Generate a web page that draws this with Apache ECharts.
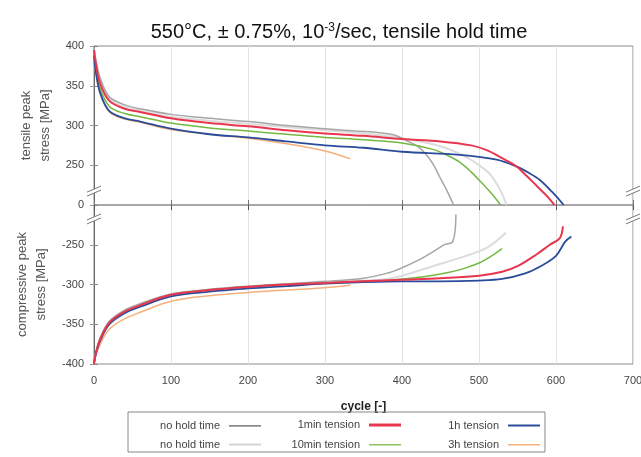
<!DOCTYPE html>
<html><head><meta charset="utf-8">
<script src="https://cdn.jsdelivr.net/npm/echarts@6/dist/echarts.min.js"></script>
<style>html,body{margin:0;padding:0;background:#fff}#c{width:641px;height:457px}</style>
</head><body><div id="c"></div>
<script>
// ---- data (cycles, peak stress in MPa) ----
const noHoldA_T_cycles = [0,2,8,20,40,60,100,150,200,250,300,340,370,390,410,420,430,440,449,458,467];
const noHoldA_T_stress = [398,385,360,336,326,321,314,309,305,300,296,293,291,288,279,274,265,252,176,94,0];
const noHoldA_C_cycles = [0,2,8,20,40,60,100,150,200,250,300,350,380,400,420,440,455,466,470];
const noHoldA_C_stress = [-400,-387,-367,-346,-332,-324,-312,-306,-302,-299,-296,-292,-286,-279,-270,-259,-249,-230,-60];

const noHoldB_T_cycles = [0,2,8,20,40,60,100,150,200,250,300,350,400,450,480,500,515,527,536];
const noHoldB_T_stress = [396,382,356,333,323,319,311,306,302,298,294,290,284,274,262,250,190,100,0];
const noHoldB_C_cycles = [0,2,8,20,40,60,100,150,200,250,300,350,380,400,440,480,510,535];
const noHoldB_C_stress = [-400,-388,-369,-348,-334,-326,-313,-307,-303,-300,-298,-295,-293,-289,-277,-265,-254,-175];

const min1_T_cycles = [0,2,8,20,40,60,100,150,200,250,300,350,400,450,490,510,530,548,562,575,588,598];
const min1_T_stress = [395,380,353,331,321,317,309,303,299,294,290,287,283,280,275,269,259,245,182,120,57,0];
const min1_C_cycles = [0,2,8,20,40,60,100,150,200,250,300,350,400,450,500,530,550,575,592,605,609];
const min1_C_stress = [-400,-388,-369,-348,-334,-326,-313,-307,-303,-300,-298,-296,-294,-292,-289,-284,-277,-262,-250,-208,-135];

const min10_T_cycles = [0,2,8,20,40,60,100,150,200,250,300,350,400,440,460,475,490,505,518,528];
const min10_T_stress = [392,375,347,324,315,311,303,297,293,289,285,282,278,270,262,254,207,132,63,0];
const min10_C_cycles = [0,2,8,20,40,60,100,150,200,250,300,350,380,400,430,460,480,500,515,530];
const min10_C_stress = [-400,-388,-369,-348,-334,-326,-313,-307,-303,-300,-298,-296,-295,-293,-290,-285,-280,-273,-265,-255];

const h1_T_cycles = [0,2,8,20,40,60,100,150,200,250,300,350,400,475,523,549,565,579,595,610];
const h1_T_stress = [388,370,341,318,309,305,296,289,285,280,275,272,267,263,257,241,201,157,82,0];
const h1_C_cycles = [0,2,8,20,40,60,100,150,200,250,300,350,400,450,500,530,560,580,600,612,620];
const h1_C_stress = [-400,-389,-371,-350,-336,-328,-315,-309,-305,-302,-299,-297,-296,-296,-295,-293,-286,-277,-264,-230,-198];

const h3_T_cycles = [0,2,8,20,40,60,100,150,200,250,300,333];
const h3_T_stress = [385,368,340,317,308,304,295,289,284,277,268,258];
const h3_C_cycles = [0,2,8,20,40,60,100,150,200,250,300,333];
const h3_C_stress = [-400,-390,-375,-356,-343,-335,-321,-314,-310,-307,-304,-301];

const xTickValues = [0,100,200,300,400,500,600,700];
const tensileTicks = [0,250,300,350,400];
const compressiveTicks = [-250,-300,-350,-400];

// broken axis: |stress| >= 250 shown linearly, 0..250 compressed into one step
function toDisp(v){ const a=Math.abs(v), s=v<0?-1:1; return a>=250 ? s*(a-200) : v/5; }
function fromDisp(d){ if(d===0) return 0; const a=Math.abs(d), s=d<0?-1:1; return a>=50 ? s*(a+200) : d*5; }
function pts(c,s){ return c.map((x,i)=>[x,toDisp(s[i])]); }

const FONT = 'Liberation Sans, Arial, sans-serif';
const chart = echarts.init(document.getElementById('c'), null, {renderer:'canvas'});

const defs = [
  {name:'no hold time (2)', color:'#dcdcdc', w:2,   T:[noHoldB_T_cycles,noHoldB_T_stress], C:[noHoldB_C_cycles,noHoldB_C_stress]},
  {name:'3h tension',       color:'#f7b07a', w:1.5, T:[h3_T_cycles,h3_T_stress],           C:[h3_C_cycles,h3_C_stress]},
  {name:'no hold time',     color:'#a6a6a6', w:1.5, T:[noHoldA_T_cycles,noHoldA_T_stress], C:[noHoldA_C_cycles,noHoldA_C_stress]},
  {name:'10min tension',    color:'#74b843', w:1.5, T:[min10_T_cycles,min10_T_stress],     C:[min10_C_cycles,min10_C_stress]},
  {name:'1h tension',       color:'#2b4c9b', w:1.8, T:[h1_T_cycles,h1_T_stress],           C:[h1_C_cycles,h1_C_stress]},
  {name:'1min tension',     color:'#e8364f', w:2,   T:[min1_T_cycles,min1_T_stress],       C:[min1_C_cycles,min1_C_stress]}
];
const series = [];
defs.forEach(d=>{
  const base = {type:'line', name:d.name, showSymbol:false, symbol:'none', smooth:0.35,
    lineStyle:{color:d.color, width:d.w}, itemStyle:{color:d.color}, silent:true};
  series.push(Object.assign({}, base, {xAxisIndex:0, yAxisIndex:0, data:pts(d.T[0],d.T[1])}));
  series.push(Object.assign({}, base, {xAxisIndex:2, yAxisIndex:2, data:pts(d.C[0],d.C[1])}));
});

const legendItems = [
  {name:'no hold time',     color:'#555555', h:1.2, right:641-261, row:0},
  {name:'1min tension',     color:'#e8364f', h:3,   right:641-401, row:0},
  {name:'1h tension',       color:'#2b4c9b', h:2,   right:641-540, row:0},
  {name:'no hold time (2)', color:'#d4d4d4', h:2,   right:641-261, row:1},
  {name:'10min tension',    color:'#8cc060', h:1.5, right:641-401, row:1},
  {name:'3h tension',       color:'#f7b07a', h:1.5, right:641-540, row:1}
];
const rowCenters = [421, 440];
const legends = legendItems.map(it=>({
  data:[{name:it.name, icon:'rect', itemStyle:{color:it.color, borderWidth:0}}],
  right: it.right, top: rowCenters[it.row]-it.h/2, padding:0,
  itemWidth:32, itemHeight:it.h, itemGap:5, align:'right', selectedMode:false,
  formatter: n => n.replace(' (2)',''),
  textStyle:{fontFamily:FONT, fontSize:11, color:'#444', padding:[0,4,0,0]}
}));

const axisCommonX = {type:'value', min:0, max:700, interval:100};
const gridLineStyle = {color:'#e2e2e2', width:1};
const option = {
  animation:false,
  backgroundColor:'#ffffff',
  title:{
    text:'550°C, ± 0.75%, 10{sup|-3}/sec, tensile hold time',
    left:334, top:17, textAlign:'center',
    textStyle:{fontFamily:FONT, fontSize:20, fontWeight:'normal', color:'#111',
      rich:{sup:{fontFamily:FONT, fontSize:12, color:'#111', verticalAlign:'top', padding:[0,0,9,0]}}}
  },
  legend: legends,
  grid:[
    {left:94, top:46, width:539, height:159, show:true, borderColor:'#8a8a8a', borderWidth:1, containLabel:false, outerBoundsMode:'none'},
    {left:94, top:205, width:539, height:159, show:true, borderColor:'#8a8a8a', borderWidth:1, containLabel:false, outerBoundsMode:'none'}
  ],
  xAxis:[
    Object.assign({}, axisCommonX, {gridIndex:0, position:'bottom', axisLine:{show:false}, axisLabel:{show:false},
      axisTick:{inside:true, length:5, lineStyle:{color:'#555'}}, splitLine:{show:true, lineStyle:gridLineStyle}}),
    Object.assign({}, axisCommonX, {gridIndex:0, position:'top', axisLine:{show:false}, axisLabel:{show:false},
      axisTick:{inside:true, length:5, lineStyle:{color:'#777'}}, splitLine:{show:false}}),
    Object.assign({}, axisCommonX, {gridIndex:1, position:'bottom', axisLine:{show:false},
      axisLabel:{show:true, margin:11, fontFamily:FONT, fontSize:11, color:'#444',
        formatter: v => xTickValues.includes(v) ? String(v) : ''},
      axisTick:{inside:true, length:5, lineStyle:{color:'#777'}}, splitLine:{show:true, lineStyle:gridLineStyle},
      name:'cycle [-]', nameLocation:'middle', nameGap:37,
      nameTextStyle:{fontFamily:FONT, fontSize:12, fontWeight:'bold', color:'#222'}}),
    Object.assign({}, axisCommonX, {gridIndex:1, position:'top', axisLine:{show:false}, axisLabel:{show:false},
      axisTick:{inside:true, length:5, lineStyle:{color:'#555'}}, splitLine:{show:false}})
  ],
  yAxis:[
    {type:'value', gridIndex:0, min:0, max:200, interval:50, position:'left',
      axisLine:{show:true, lineStyle:{color:'#666'}}, axisTick:{show:true, inside:true, length:4, lineStyle:{color:'#888'}},
      axisLabel:{margin:10, fontFamily:FONT, fontSize:11, color:'#444',
        formatter: d => { const v = fromDisp(d); return tensileTicks.includes(v) ? String(v) : ''; }},
      splitLine:{show:false},
      name:'tensile peak\nstress [MPa]', nameLocation:'middle', nameGap:36, nameRotate:90,
      nameTextStyle:{fontFamily:FONT, fontSize:13, color:'#555', lineHeight:19}},
    {type:'value', gridIndex:0, min:0, max:200, interval:50, position:'right',
      axisLine:{show:false}, axisTick:{show:true, inside:true, length:4, lineStyle:{color:'#999'}},
      axisLabel:{show:false}, splitLine:{show:false}},
    {type:'value', gridIndex:1, min:-200, max:0, interval:50, position:'left',
      axisLine:{show:true, lineStyle:{color:'#666'}}, axisTick:{show:true, inside:true, length:4, lineStyle:{color:'#888'}},
      axisLabel:{margin:10, fontFamily:FONT, fontSize:11, color:'#444',
        formatter: d => { const v = fromDisp(d); return compressiveTicks.includes(v) ? String(v) : ''; }},
      splitLine:{show:false},
      name:'compressive peak\nstress [MPa]', nameLocation:'middle', nameGap:36, nameRotate:90,
      nameTextStyle:{fontFamily:FONT, fontSize:13, color:'#555', lineHeight:19}},
    {type:'value', gridIndex:1, min:-200, max:0, interval:50, position:'right',
      axisLine:{show:false}, axisTick:{show:true, inside:true, length:4, lineStyle:{color:'#999'}},
      axisLabel:{show:false}, splitLine:{show:false}}
  ],
  series: series
};
chart.setOption(option);

// axis-break marks, placed from the axes' own scales
function breakMark(p){
  const x=p[0], y=p[1];
  return [
    {type:'polygon', shape:{points:[[x-7,y+3],[x+7,y-3],[x+7,y+1],[x-7,y+7]]}, style:{fill:'#ffffff', stroke:null}, z:100},
    {type:'line', shape:{x1:x-7,y1:y+3,x2:x+7,y2:y-3}, style:{stroke:'#777', lineWidth:1}, z:101},
    {type:'line', shape:{x1:x-7,y1:y+7,x2:x+7,y2:y+1}, style:{stroke:'#777', lineWidth:1}, z:101}
  ];
}
const g = [];
[[0,20],[700,20]].forEach(a=>{ g.push(...breakMark(chart.convertToPixel({xAxisIndex:0,yAxisIndex:0},a))); });
[[0,-15],[700,-15]].forEach(a=>{ g.push(...breakMark(chart.convertToPixel({xAxisIndex:2,yAxisIndex:2},a))); });
g.push({type:'rect', shape:{x:128, y:412, width:417, height:40}, style:{fill:null, stroke:'#888', lineWidth:1}, z:50});
chart.setOption({graphic:{elements:g}});
</script>
</body></html>
